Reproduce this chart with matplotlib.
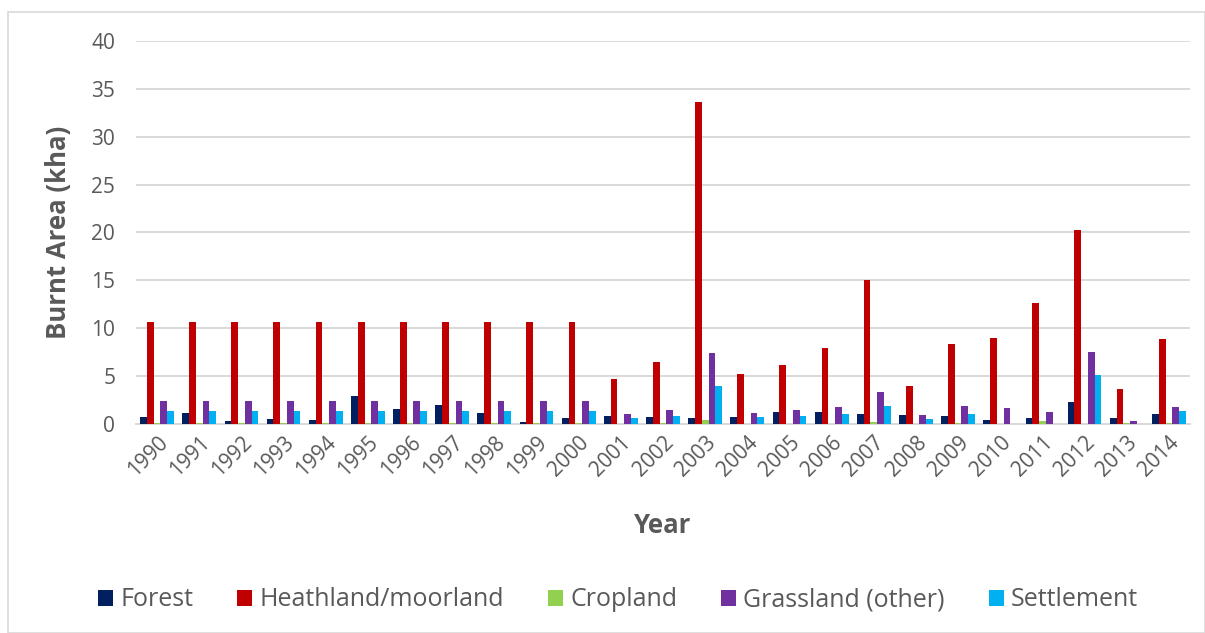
import matplotlib

matplotlib.use("Agg")

import matplotlib.pyplot as plt
import numpy as np
from matplotlib.patches import Rectangle


years = [str(y) for y in range(1990, 2015)]
forest = [0.7, 1.18, 0.35, 0.55, 0.45, 2.96, 1.53, 1.95, 1.1, 0.25, 0.65, 0.83, 0.7,
          0.59, 0.73, 1.25, 1.22, 1.08, 0.98, 0.83, 0.45, 0.59, 2.33, 0.66, 1.01]
heathland = [10.65, 10.65, 10.65, 10.65, 10.65, 10.65, 10.65, 10.65, 10.65, 10.65, 10.65,
             4.67, 6.44, 33.63, 5.19, 6.16, 7.97, 15.04, 3.97, 8.39, 8.98, 12.6, 20.26, 3.66, 8.88]
cropland = [0.1, 0.1, 0.1, 0.1, 0.1, 0.1, 0.1, 0.1, 0.1, 0.1, 0.1, 0.05, 0.1,
            0.42, 0.05, 0.05, 0.05, 0.2, 0.05, 0.1, 0.05, 0.31, 0.05, 0.15, 0.12]
grassland = [2.4, 2.4, 2.4, 2.4, 2.4, 2.4, 2.4, 2.4, 2.4, 2.4, 2.4, 1.08, 1.5,
             7.42, 1.18, 1.46, 1.82, 3.38, 0.94, 1.88, 1.7, 1.25, 7.52, 0.28, 1.77]
settlement = [1.33, 1.33, 1.33, 1.33, 1.33, 1.33, 1.33, 1.33, 1.33, 1.33, 1.33, 0.63, 0.83,
              3.97, 0.7, 0.8, 1.01, 1.84, 0.56, 1.04, 0.05, 0.0, 5.12, 0.0, 1.36]

series = [
    ("Forest", forest, "#002060"),
    ("Heathland/moorland", heathland, "#C00000"),
    ("Cropland", cropland, "#92D050"),
    ("Grassland (other)", grassland, "#7030A0"),
    ("Settlement", settlement, "#00B0F0"),
]

TEXT = "#595959"
GRID = "#D9D9D9"


def main() -> None:
    plt.rcParams["font.family"] = ["Open Sans", "DejaVu Sans"]

    fig = plt.figure(figsize=(12.05, 6.33), dpi=100)
    fig.patches.append(Rectangle((8 / 1205, 0), 1 - 8 / 1205, 1 - 12 / 633, transform=fig.transFigure,
                                 fill=False, edgecolor=GRID, linewidth=1.2))
    ax = fig.add_axes([136 / 1205, 209 / 633, (1190 - 136) / 1205, (424 - 41) / 633])

    x = np.arange(len(years))
    width = 0.16
    for i, (name, vals, color) in enumerate(series):
        ax.bar(x + (i - 2) * width, vals, width=width, color=color, label=name, zorder=3)

    ax.set_xlim(-0.5, len(years) - 0.5)
    ax.set_ylim(0, 40)
    ax.set_yticks(np.arange(0, 41, 5))
    ax.set_xticks(x)
    ax.set_xticklabels(years, rotation=45, ha="right", rotation_mode="anchor")
    ax.grid(axis="y", color=GRID, linewidth=1.4, zorder=0)
    for side in ("top", "right", "left"):
        ax.spines[side].set_visible(False)
    ax.spines["bottom"].set_color(GRID)
    ax.spines["bottom"].set_linewidth(1.4)
    ax.tick_params(axis="both", length=0, colors=TEXT, labelsize=15)
    ax.tick_params(axis="y", pad=15)
    ax.tick_params(axis="x", pad=6)

    ax.set_ylabel("Burnt Area (kha)", fontsize=18.5, fontweight="bold", color=TEXT, labelpad=14)
    ax.set_xlabel("Year", fontsize=18.5, fontweight="bold", color=TEXT, labelpad=22)

    fig.legend(loc="center", bbox_to_anchor=(618 / 1205, 1 - 600 / 633), ncol=5, frameon=False,
               fontsize=18, labelcolor=TEXT, handlelength=0.6, handleheight=0.6,
               handletextpad=0.3, columnspacing=1.75)

    fig.savefig("out.png", dpi=100)
    plt.close(fig)


if __name__ == "__main__":
    main()
